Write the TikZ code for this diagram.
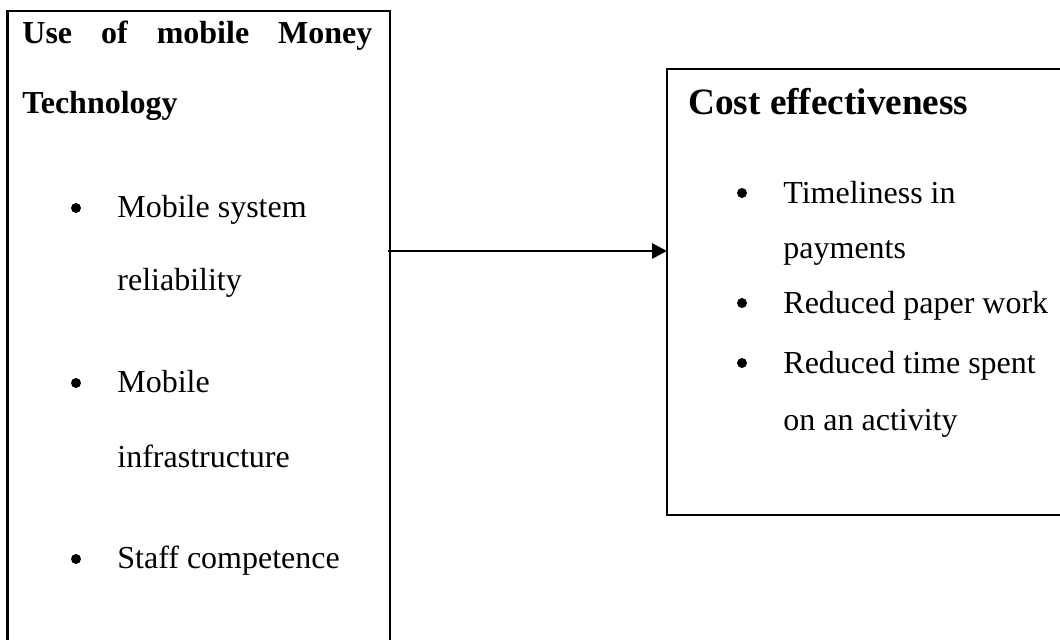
\documentclass[tikz,border=0pt]{standalone}
\usepackage{fontspec}
\setmainfont{Liberation Serif}
\usetikzlibrary{arrows.meta}

\tikzset{
  item/.style={anchor=base west, inner sep=0pt, font=\fontsize{16}{19}\selectfont},
  head/.style={item, font=\fontsize{16}{19}\selectfont\bfseries},
  dot/.style={circle, fill, inner sep=0pt, minimum size=5pt},
  frame/.style={draw, line width=1.25pt, anchor=north west, inner sep=0pt, outer sep=0pt}
}

\begin{document}
\begin{tikzpicture}[x=0.5pt, y=0.5pt]
    \clip (0,0) rectangle (1060,639);
    % the two boxes
    \node[frame, minimum width=191.25pt, minimum height=330pt] (usebox) at (7.5,628) {};
    \node[frame, line width=1pt, minimum width=210pt, minimum height=223pt] (costbox) at (667,570) {};
    % left box
    \node[head] (usehead) at (22,596) {\makebox[175pt][s]{Use of mobile Money}};
    \node[head] (usehead2) at (22,526) {Technology};
    \foreach \y/\s [count=\i] in {422/Mobile system, 349/reliability, 247/Mobile, 172/infrastructure, 71/Staff competence}
        \node[item] (use\i) at (117,\y) {\s};
    \foreach \y [count=\i] in {431,256,80}
        \node[dot] (usedot\i) at (76,\y) {};
    % right box
    \node[head, font=\fontsize{18.6}{22}\selectfont\bfseries] (costhead) at (688,524) {Cost effectiveness};
    \foreach \y/\s [count=\i] in {436/Timeliness in, 381/payments, 326/Reduced paper work, 266/Reduced time spent, 209/on an activity}
        \node[item] (cost\i) at (783,\y) {\s};
    \foreach \y [count=\i] in {446,336,276}
        \node[dot] (costdot\i) at (742,\y) {};
    % arrow
    \coordinate (src) at (388,388);
    \draw[line width=1.35pt, -{Triangle[length=7.5pt, width=7.5pt]}] (src) -- (src -| costbox.west);
\end{tikzpicture}
\end{document}
